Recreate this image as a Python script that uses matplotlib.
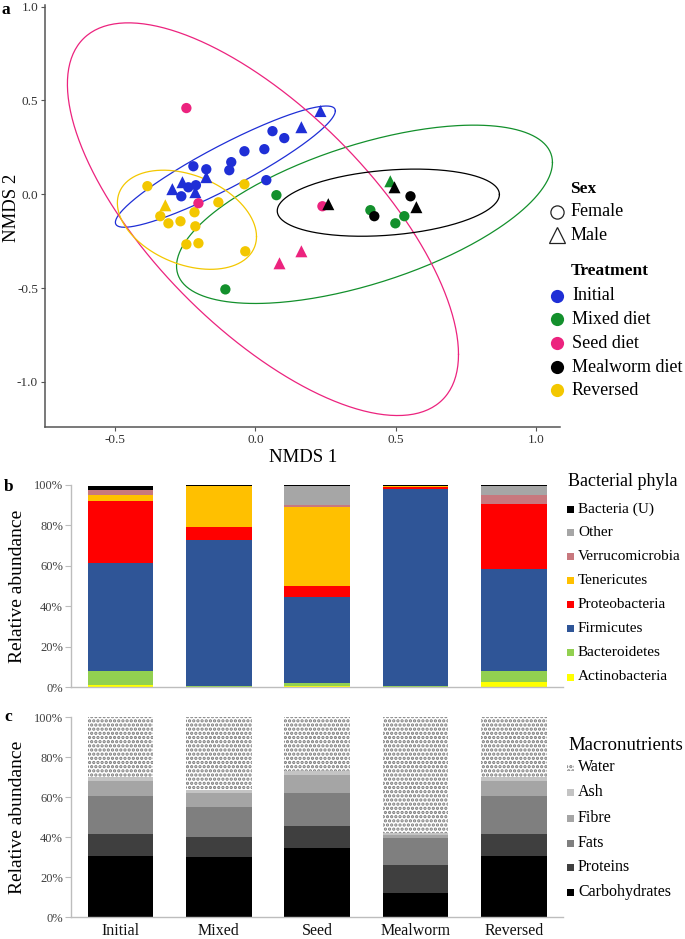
import numpy as np
import matplotlib
matplotlib.use('Agg')
import matplotlib.pyplot as plt
from matplotlib.patches import Rectangle
from matplotlib.lines import Line2D

plt.rcParams['font.family'] = ['Liberation Serif', 'DejaVu Serif']
plt.rcParams['axes.unicode_minus'] = False
plt.rcParams['hatch.color'] = '#7a7a7a'
plt.rcParams['hatch.linewidth'] = 1.6

W, H = 685, 939

# ---------------- Panel a data (NMDS) ----------------
treatments = ['Initial', 'Mixed diet', 'Seed diet', 'Mealworm diet', 'Reversed']
treat_colors = ['#1f2fd6', '#13902c', '#ec237e', '#000000', '#f3c700']

initial_x = [0.061, 0.103, -0.039, 0.032, -0.086, -0.093, -0.221, -0.175, 0.039, -0.212, -0.239, -0.264,
             0.232, 0.164, -0.260, -0.296, -0.214, -0.175]
initial_y = [0.336, 0.299, 0.229, 0.240, 0.171, 0.128, 0.149, 0.133, 0.075, 0.048, 0.037, -0.011,
             0.443, 0.357, 0.064, 0.027, 0.011, 0.091]
initial_sex = ['F'] * 12 + ['M'] * 6

mixed_x = [0.075, -0.107, 0.410, 0.531, 0.499, 0.481]
mixed_y = [-0.005, -0.507, -0.085, -0.117, -0.155, 0.069]
mixed_sex = ['F'] * 5 + ['M']

seed_x = [-0.246, -0.203, 0.239, 0.086, 0.164]
seed_y = [0.459, -0.048, -0.064, -0.368, -0.304]
seed_sex = ['F'] * 3 + ['M'] * 2

mealworm_x = [0.553, 0.424, 0.260, 0.496, 0.574]
mealworm_y = [-0.011, -0.117, -0.053, 0.037, -0.069]
mealworm_sex = ['F'] * 2 + ['M'] * 3

reversed_x = [-0.385, -0.039, -0.132, -0.217, -0.339, -0.310, -0.267, -0.214, -0.246, -0.203, -0.036, -0.321]
reversed_y = [0.043, 0.053, -0.043, -0.096, -0.117, -0.155, -0.144, -0.171, -0.267, -0.261, -0.304, -0.059]
reversed_sex = ['F'] * 11 + ['M']

# ellipse centres and covariance terms (sxx, sxy, syy), per treatment
ell_cx = [-0.107, 0.389, 0.027, 0.474, -0.244]
ell_cy = [0.147, -0.107, -0.133, -0.045, -0.136]
ell_sxx = [0.1537, 0.449, 0.486, 0.1568, 0.0615]
ell_sxy = [0.1163, 0.185, -0.502, 0.0172, -0.0222]
ell_syy = [0.1043, 0.2256, 1.094, 0.032, 0.0697]

# ---------------- Panel b data (bacterial phyla, %) ----------------
groups = ['Initial', 'Mixed', 'Seed', 'Mealworm', 'Reversed']
phyla = ['Actinobacteria', 'Bacteroidetes', 'Firmicutes', 'Proteobacteria',
         'Tenericutes', 'Verrucomicrobia', 'Other', 'Bacteria (U)']
phyla_colors = ['#ffff00', '#92d050', '#2f5597', '#ff0000', '#ffc000', '#c8787e', '#a6a6a6', '#000000']
actinobacteria = [1.2, 0.0, 0.3, 0.0, 2.3]
bacteroidetes = [6.9, 0.3, 1.5, 0.7, 5.5]
firmicutes = [53.2, 72.4, 42.7, 97.1, 50.4]
proteobacteria = [31.0, 6.3, 5.3, 1.0, 32.4]
tenericutes = [2.9, 20.6, 39.3, 0.8, 0.0]
verrucomicrobia = [2.3, 0.0, 1.0, 0.0, 4.4]
other = [0.2, 0.1, 9.5, 0.0, 4.6]
bacteria_u = [1.8, 0.3, 0.4, 0.4, 0.4]
phyla_values = [actinobacteria, bacteroidetes, firmicutes, proteobacteria,
                tenericutes, verrucomicrobia, other, bacteria_u]

# ---------------- Panel c data (macronutrients, %) ----------------
nutrients = ['Carbohydrates', 'Proteins', 'Fats', 'Fibre', 'Ash', 'Water']
nutrient_colors = ['#000000', '#3f3f3f', '#7f7f7f', '#a5a5a5', '#c4c4c4', '#ffffff']
carbohydrates = [30.4, 29.8, 34.7, 12.0, 30.4]
proteins = [11.0, 10.2, 10.7, 13.8, 11.0]
fats = [19.1, 14.8, 16.6, 13.7, 19.1]
fibre = [7.6, 7.2, 9.2, 1.3, 7.6]
ash = [1.8, 1.7, 1.8, 1.1, 1.8]
water = [30.1, 36.3, 27.0, 58.1, 30.1]
nutrient_values = [carbohydrates, proteins, fats, fibre, ash, water]

HATCH = '....'
HATCH_COLOR = '#7a7a7a'


def fx(x):
    return x / W


def fy(y):
    return 1 - y / H


def axes_px(left, top, right, bottom):
    return [fx(left), fy(bottom), (right - left) / W, (bottom - top) / H]


fig = plt.figure(figsize=(W / 100, H / 100), dpi=100)

# ================= Panel a =================
axa = fig.add_axes(axes_px(45, 5, 560, 427))
axa.patch.set_alpha(0)
t = np.linspace(0, 2 * np.pi, 300)
for i in range(5):
    cov = np.array([[ell_sxx[i], ell_sxy[i]], [ell_sxy[i], ell_syy[i]]])
    L = np.linalg.cholesky(cov)
    pts = L @ np.vstack([np.cos(t), np.sin(t)])
    axa.plot(ell_cx[i] + pts[0], ell_cy[i] + pts[1], color=treat_colors[i], lw=0.9, zorder=1)

series = [(initial_x, initial_y, initial_sex, 0), (reversed_x, reversed_y, reversed_sex, 4),
          (mixed_x, mixed_y, mixed_sex, 1), (seed_x, seed_y, seed_sex, 2),
          (mealworm_x, mealworm_y, mealworm_sex, 3)]
z = 2
for xs, ys, sx, ci in series:
    for xv, yv, s in zip(xs, ys, sx):
        if s == 'F':
            axa.scatter(xv, yv, s=55, marker='o', color=treat_colors[ci], edgecolors='none', zorder=z)
        else:
            axa.scatter(xv, yv, s=75, marker='^', color=treat_colors[ci], edgecolors='none', zorder=z)
    z += 1

axa.set_xlim(-0.75, 1.086)
axa.set_ylim(-1.24, 1.008)
axa.set_xticks([-0.5, 0.0, 0.5, 1.0])
axa.set_xticklabels(['-0.5', '0.0', '0.5', '1.0'])
axa.set_yticks([-1.0, -0.5, 0.0, 0.5, 1.0])
axa.set_yticklabels(['-1.0', '-0.5', '0.0', '0.5', '1.0'])
for sp in ['top', 'right']:
    axa.spines[sp].set_visible(False)
for sp in ['left', 'bottom']:
    axa.spines[sp].set_color('#555555')
    axa.spines[sp].set_linewidth(1.1)
axa.tick_params(direction='out', length=3, width=0.8, color='#555555', labelsize=9.5,
                labelcolor='#333333', pad=2)
fig.text(fx(12), fy(208), 'NMDS 2', rotation=90, ha='center', va='center', fontsize=13.5)
fig.text(fx(303), fy(458), 'NMDS 1', ha='center', va='center', fontsize=13.5)
fig.text(fx(2), fy(10), 'a', ha='left', va='center', fontsize=12.5, fontweight='bold')

# legend a
fig.text(fx(570), fy(189), 'Sex', ha='left', va='center', fontsize=12.5, fontweight='bold')
fig.add_artist(Line2D([fx(557)], [fy(212)], marker='o', markersize=9.5, markerfacecolor='none',
                      markeredgecolor='#222222', markeredgewidth=0.9, transform=fig.transFigure))
fig.text(fx(571), fy(212), 'Female', ha='left', va='center', fontsize=13)
fig.add_artist(Line2D([fx(557)], [fy(235)], marker='^', markersize=11, markerfacecolor='none',
                      markeredgecolor='#222222', markeredgewidth=0.9, transform=fig.transFigure))
fig.text(fx(571), fy(236), 'Male', ha='left', va='center', fontsize=13)
fig.text(fx(571), fy(271), 'Treatment', ha='left', va='center', fontsize=12.5, fontweight='bold')
leg_y = [296, 319, 343, 367, 390]
for i, name in enumerate(treatments):
    fig.add_artist(Line2D([fx(557)], [fy(leg_y[i])], marker='o', markersize=9.5,
                          markerfacecolor=treat_colors[i], markeredgecolor='none',
                          transform=fig.transFigure))
    fig.text(fx(572), fy(leg_y[i]), name, ha='left', va='center', fontsize=13)

# ================= Panel b =================
xpos = np.arange(len(groups))
bar_w = 0.67


def style_excel(ax):
    ax.set_xlim(-0.5, 4.5)
    ax.set_ylim(0, 100)
    ax.set_yticks([0, 20, 40, 60, 80, 100])
    ax.set_yticklabels(['0%', '20%', '40%', '60%', '80%', '100%'])
    for sp in ['top', 'right']:
        ax.spines[sp].set_visible(False)
    for sp in ['left', 'bottom']:
        ax.spines[sp].set_color('#bdbdbd')
        ax.spines[sp].set_linewidth(1.0)
    ax.tick_params(axis='y', direction='out', length=4, color='#bdbdbd', labelsize=9,
                   labelcolor='#404040', pad=2)
    ax.tick_params(axis='x', length=0)


axb = fig.add_axes(axes_px(71.4, 485, 563, 687))
bottom = np.zeros(len(groups))
for vals, col in zip(phyla_values, phyla_colors):
    axb.bar(xpos, vals, bar_w, bottom=bottom, color=col, edgecolor='none', zorder=2)
    bottom += np.array(vals)
style_excel(axb)
axb.set_xticks([])
fig.text(fx(18), fy(586), 'Relative abundance', rotation=90, ha='center', va='center', fontsize=14)
fig.text(fx(4), fy(487), 'b', ha='left', va='center', fontsize=12.5, fontweight='bold')

fig.text(fx(568), fy(481), 'Bacterial phyla', ha='left', va='center', fontsize=13)
leg_b_y = [677, 652, 628, 604, 580, 556, 532, 509]
for i, name in enumerate(phyla):
    fig.add_artist(Rectangle((fx(567), fy(leg_b_y[i] + 3.5)), 7 / W, 7 / H, facecolor=phyla_colors[i],
                             edgecolor='none', transform=fig.transFigure))
    fig.text(fx(578), fy(leg_b_y[i]), name, ha='left', va='center', fontsize=11)

# ================= Panel c =================
axc = fig.add_axes(axes_px(71.4, 717, 563, 917))
bottom = np.zeros(len(groups))
for k, (vals, col) in enumerate(zip(nutrient_values, nutrient_colors)):
    if nutrients[k] == 'Water':
        axc.bar(xpos, vals, bar_w, bottom=bottom, color='white', edgecolor=HATCH_COLOR, hatch=HATCH,
                zorder=2, linewidth=0)
    else:
        axc.bar(xpos, vals, bar_w, bottom=bottom, color=col, edgecolor='none', zorder=2)
    bottom += np.array(vals)
style_excel(axc)
axc.set_xticks(xpos)
axc.set_xticklabels(groups, fontsize=11.5, color='#111111')
axc.tick_params(axis='x', pad=4)
fig.text(fx(18), fy(817), 'Relative abundance', rotation=90, ha='center', va='center', fontsize=14)
fig.text(fx(4), fy(717), 'c', ha='left', va='center', fontsize=12.5, fontweight='bold')

fig.text(fx(568), fy(745), 'Macronutrients', ha='left', va='center', fontsize=13.5)
leg_c_y = [892, 867, 843, 818, 792, 767]
for i, name in enumerate(nutrients):
    if name == 'Water':
        fig.add_artist(Rectangle((fx(567), fy(leg_c_y[i] + 3.5)), 7 / W, 7 / H, facecolor='white',
                                 edgecolor=HATCH_COLOR, linewidth=0, hatch=HATCH,
                                 transform=fig.transFigure))
    else:
        fig.add_artist(Rectangle((fx(567), fy(leg_c_y[i] + 3.5)), 7 / W, 7 / H,
                                 facecolor=nutrient_colors[i], edgecolor='none',
                                 transform=fig.transFigure))
    fig.text(fx(578), fy(leg_c_y[i]), name, ha='left', va='center', fontsize=11.5)

fig.savefig('out.png', dpi=100)
